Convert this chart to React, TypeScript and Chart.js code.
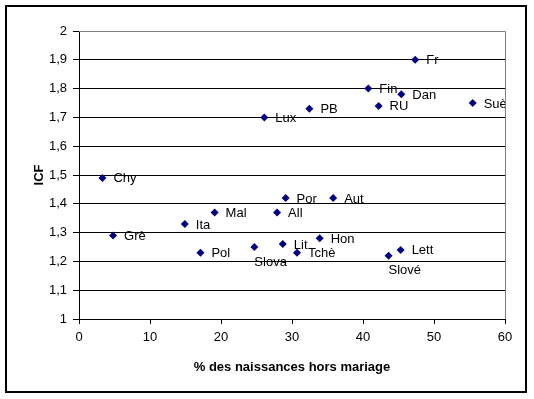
import React, { useEffect, useRef } from 'react';
import { Chart, registerables } from 'chart.js';

Chart.register(...registerables);

const countries = ['Fr', 'Fin', 'Dan', 'RU', 'Suè', 'Lux', 'PB', 'Chy', 'Por', 'Aut', 'Mal', 'All', 'Ita', 'Grè', 'Hon', 'Lit', 'Pol', 'Slova', 'Tchè', 'Lett', 'Slové'];
const birthsOutsideMarriage = [47.35, 40.75, 45.4, 42.2, 55.45, 26.1, 32.45, 3.3, 29.1, 35.8, 19.1, 27.9, 14.9, 4.8, 33.9, 28.7, 17.1, 24.7, 30.7, 45.3, 43.6];
const icf = [1.9, 1.8, 1.78, 1.74, 1.75, 1.7, 1.73, 1.49, 1.42, 1.42, 1.37, 1.37, 1.33, 1.29, 1.28, 1.26, 1.23, 1.25, 1.23, 1.24, 1.22];
const labelsBelow = ['Slova', 'Slové'];

const xTitle = '% des naissances hors mariage';
const yTitle = 'ICF';

const FONT = "'Liberation Sans', Arial, sans-serif";

const labelPlugin = {
  id: 'pointLabels',
  afterDatasetsDraw(chart: any) {
    const ctx = chart.ctx;
    const meta = chart.getDatasetMeta(0);
    ctx.save();
    ctx.font = `13px ${FONT}`;
    ctx.fillStyle = '#000';
    ctx.textAlign = 'left';
    ctx.textBaseline = 'middle';
    meta.data.forEach((pt: any, i: number) => {
      const name = countries[i];
      if (labelsBelow.includes(name)) {
        ctx.fillText(name, pt.x, pt.y + 15);
      } else {
        ctx.fillText(name, pt.x + 11, pt.y + 1);
      }
    });
    ctx.restore();
  },
};

const framePlugin = {
  id: 'frames',
  beforeDraw(chart: any) {
    const ctx = chart.ctx;
    ctx.save();
    ctx.fillStyle = '#fff';
    ctx.fillRect(0, 0, chart.width, chart.height);
    ctx.restore();
  },
  afterDraw(chart: any) {
    const ctx = chart.ctx;
    const a = chart.chartArea;
    ctx.save();
    ctx.strokeStyle = '#808080';
    ctx.lineWidth = 1;
    ctx.beginPath();
    ctx.moveTo(Math.round(a.left), Math.round(a.top) + 0.5);
    ctx.lineTo(Math.round(a.right) + 0.5, Math.round(a.top) + 0.5);
    ctx.lineTo(Math.round(a.right) + 0.5, Math.round(a.bottom));
    ctx.stroke();
    ctx.strokeStyle = '#000';
    ctx.lineWidth = 2;
    ctx.strokeRect(6, 6, 520, 386);
    ctx.restore();
  },
};

export default function App() {
  const ref = useRef<HTMLCanvasElement>(null);

  useEffect(() => {
    document.body.style.margin = '0';
    const canvas = ref.current;
    if (!canvas) return;
    const chart = new Chart(canvas, {
      type: 'scatter',
      data: {
        datasets: [
          {
            data: birthsOutsideMarriage.map((x, i) => ({ x, y: icf[i] })),
            pointStyle: 'rectRot',
            radius: 4,
            hoverRadius: 4,
            backgroundColor: '#000080',
            borderColor: '#000080',
            borderWidth: 0,
          },
        ],
      },
      options: {
        animation: false,
        responsive: false,
        maintainAspectRatio: false,
        devicePixelRatio: 1,
        layout: { padding: { left: 6, right: 29, top: 31, bottom: 6 } },
        plugins: { legend: { display: false }, tooltip: { enabled: false } },
        scales: {
          x: {
            type: 'linear',
            min: 0,
            max: 60,
            ticks: { stepSize: 10, color: '#000', font: { family: FONT, size: 13 }, padding: 6 },
            grid: { drawOnChartArea: false, color: '#000', tickColor: '#000', tickLength: 5 },
            border: { color: '#000' },
            title: {
              display: true,
              text: xTitle,
              color: '#000',
              font: { family: FONT, size: 13, weight: 'bold' },
              padding: { top: 0, bottom: 18 },
            },
            afterFit: (s: any) => {
              s.height = 74;
            },
          },
          y: {
            min: 1,
            max: 2,
            ticks: {
              stepSize: 0.1,
              color: '#000',
              font: { family: FONT, size: 13 },
              padding: 6,
              callback: (v: any) => {
                const s = Number(v).toFixed(1);
                return s.endsWith('.0') ? s.slice(0, -2) : s.replace('.', ',');
              },
            },
            grid: {
              color: (c: any) => (c.tick && Math.abs(c.tick.value - 2) < 1e-6 ? '#808080' : '#000'),
              tickColor: '#000',
              tickLength: 6,
            },
            border: { color: '#000' },
            title: {
              display: true,
              text: yTitle,
              color: '#000',
              font: { family: FONT, size: 13, weight: 'bold' },
              padding: { top: 26, bottom: 0 },
            },
            afterFit: (s: any) => {
              s.width = 73;
            },
          },
        },
      },
      plugins: [framePlugin, labelPlugin],
    });
    return () => chart.destroy();
  }, []);

  return (
    <div style={{ width: 534, height: 399 }}>
      <canvas ref={ref} width={534} height={399} style={{ display: 'block' }} />
    </div>
  );
}
